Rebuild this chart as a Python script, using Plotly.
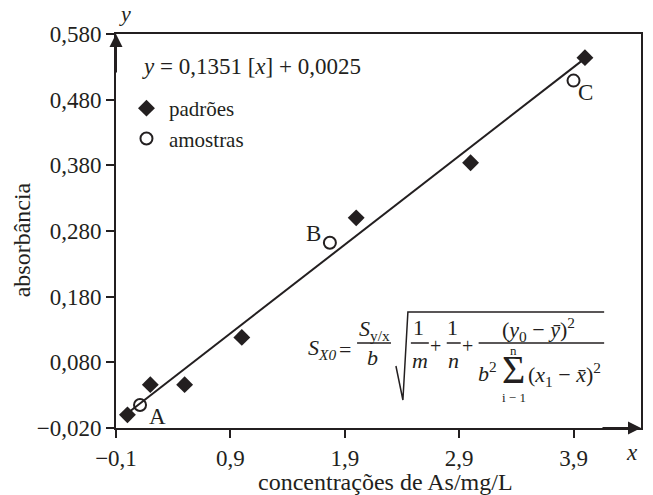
import plotly.graph_objects as go

# padrões (standards) and amostras (samples)
std_x = [0.0, 0.2, 0.5, 1.0, 2.0, 3.0, 4.0]
std_y = [0.000, 0.046, 0.046, 0.118, 0.300, 0.384, 0.544]
amo_x = [0.11, 1.77, 3.9]
amo_y = [0.015, 0.262, 0.509]
amo_lbl = ['A', 'B', 'C']

# reta de calibração y = b*x + a
b_coef = 0.1351
a_coef = 0.0025
reta_x = [0.0, 4.0]
reta_y = [b_coef * v + a_coef for v in reta_x]

x_ticks = [-0.1, 0.9, 1.9, 2.9, 3.9]
x_text = ['−0,1', '0,9', '1,9', '2,9', '3,9']
y_ticks = [-0.02, 0.08, 0.18, 0.28, 0.38, 0.48, 0.58]
y_text = ['−0,020', '0,080', '0,180', '0,280', '0,380', '0,480', '0,580']

FONT = "Liberation Serif, Times New Roman, serif"
INK = "#231f20"
OFF = 8  # margem padrão do <body> da página
W, H = 653 - OFF, 495 - OFF
L, R, T, B = 116 - OFF, 10, 34 - OFF, 67
PW, PH = W - L - R, H - T - B


def px(x):
    return (x - OFF - L) / PW


def py(y):
    return (H + OFF - B - y) / PH


fig = go.Figure()

fig.add_trace(go.Scatter(
    x=reta_x, y=reta_y, mode='lines',
    line=dict(color=INK, width=2), showlegend=False, hoverinfo='skip'
))
fig.add_trace(go.Scatter(
    x=std_x, y=std_y, mode='markers', name='padrões',
    marker=dict(symbol='diamond', size=13, color=INK)
))
fig.add_trace(go.Scatter(
    x=amo_x, y=amo_y, mode='markers', name='amostras',
    marker=dict(symbol='circle-open', size=12, color=INK, line=dict(width=2))
))

ann = []
# rótulos A, B, C
shifts = [(17, -11), (-16, 9), (12, -12)]
for lx, ly, t, (dx, dy) in zip(amo_x, amo_y, amo_lbl, shifts):
    ann.append(dict(x=lx, y=ly, text=t, showarrow=False, xshift=dx, yshift=dy,
                    xanchor='center', yanchor='middle', font=dict(size=23)))

# setas dos eixos
ann.append(dict(x=-0.1, y=0.58, ax=0, ay=40, text='', showarrow=True,
                arrowhead=2, arrowsize=1.3, arrowwidth=2, arrowcolor=INK))
ann.append(dict(x=4.49, y=-0.02, ax=-40, ay=0, text='', showarrow=True,
                arrowhead=2, arrowsize=1.3, arrowwidth=2, arrowcolor=INK))


def note(x, y, text, size=22, xanchor='center', angle=0, yanchor='middle'):
    ann.append(dict(xref='paper', yref='paper', x=px(x), y=py(y), text=text,
                    showarrow=False, xanchor=xanchor, yanchor=yanchor,
                    textangle=angle, font=dict(size=size)))


# eixos e títulos
note(125, 28, '<i>y</i>', 22, yanchor='bottom')
note(634, 452, '<i>x</i>', 23)
note(387, 482, 'concentrações de As/mg/L', 24)
note(22, 240, 'absorbância', 24, angle=-90)

# equação
note(140, 66, '<i>y</i> = 0,1351 [<i>x</i>] + 0,0025', 23, 'left')

# fórmula S_X0
note(339, 349, '<i>S<sub>X0</sub></i>', 22, 'right')
note(346, 349, '=', 22)
note(375, 330, '<i>S</i><sub>y/x</sub>', 22)
note(373, 357, '<i>b</i>', 22)
note(420, 327, '1', 22)
note(421, 360, '<i>m</i>', 22)
note(437, 346, '+', 20)
note(454, 327, '1', 22)
note(455, 360, '<i>n</i>', 22)
note(469, 346, '+', 20)
note(540, 329, '(<i>y</i><sub>0</sub> − <i>ȳ</i>)<sup>2</sup>', 22)
note(489, 372, '<i>b</i><sup>2</sup>', 22)
note(515, 369, 'Σ', 40)
note(515, 350, 'n', 13)
note(516, 397, 'i − 1', 13)
note(566, 374, '(<i>x</i><sub>1</sub> − <i>x̄</i>)<sup>2</sup>', 22)

shapes = []
for x0, x1 in [(358, 392), (412, 430), (448, 462), (480, 606)]:
    shapes.append(dict(type='line', xref='paper', yref='paper',
                       x0=px(x0), x1=px(x1), y0=py(343), y1=py(343),
                       line=dict(color=INK, width=1.5)))
sq = [(397, 366), (404, 400), (409, 312), (606, 312)]
path = 'M ' + ' L '.join(f'{px(a):.4f},{py(c):.4f}' for a, c in sq)
shapes.append(dict(type='path', xref='paper', yref='paper', path=path,
                   line=dict(color=INK, width=1.5)))

axis = dict(showgrid=False, zeroline=False, showline=True, mirror=True,
            linecolor=INK, linewidth=2, ticks='outside', ticklen=8,
            tickwidth=2, tickcolor=INK, tickfont=dict(size=23))

fig.update_layout(
    width=W, height=H,
    margin=dict(l=L, r=R, t=T, b=B),
    paper_bgcolor='white', plot_bgcolor='white',
    font=dict(family=FONT, color=INK, size=22),
    xaxis=dict(axis, range=[-0.1, 4.49], tickvals=x_ticks, ticktext=x_text),
    yaxis=dict(axis, range=[-0.02, 0.58], tickvals=y_ticks, ticktext=y_text),
    legend=dict(x=px(124), y=py(88), xanchor='left', yanchor='top', itemwidth=35,
                bgcolor='rgba(0,0,0,0)', font=dict(size=21), tracegroupgap=0),
    annotations=ann, shapes=shapes,
)

fig.write_html("out.html")
